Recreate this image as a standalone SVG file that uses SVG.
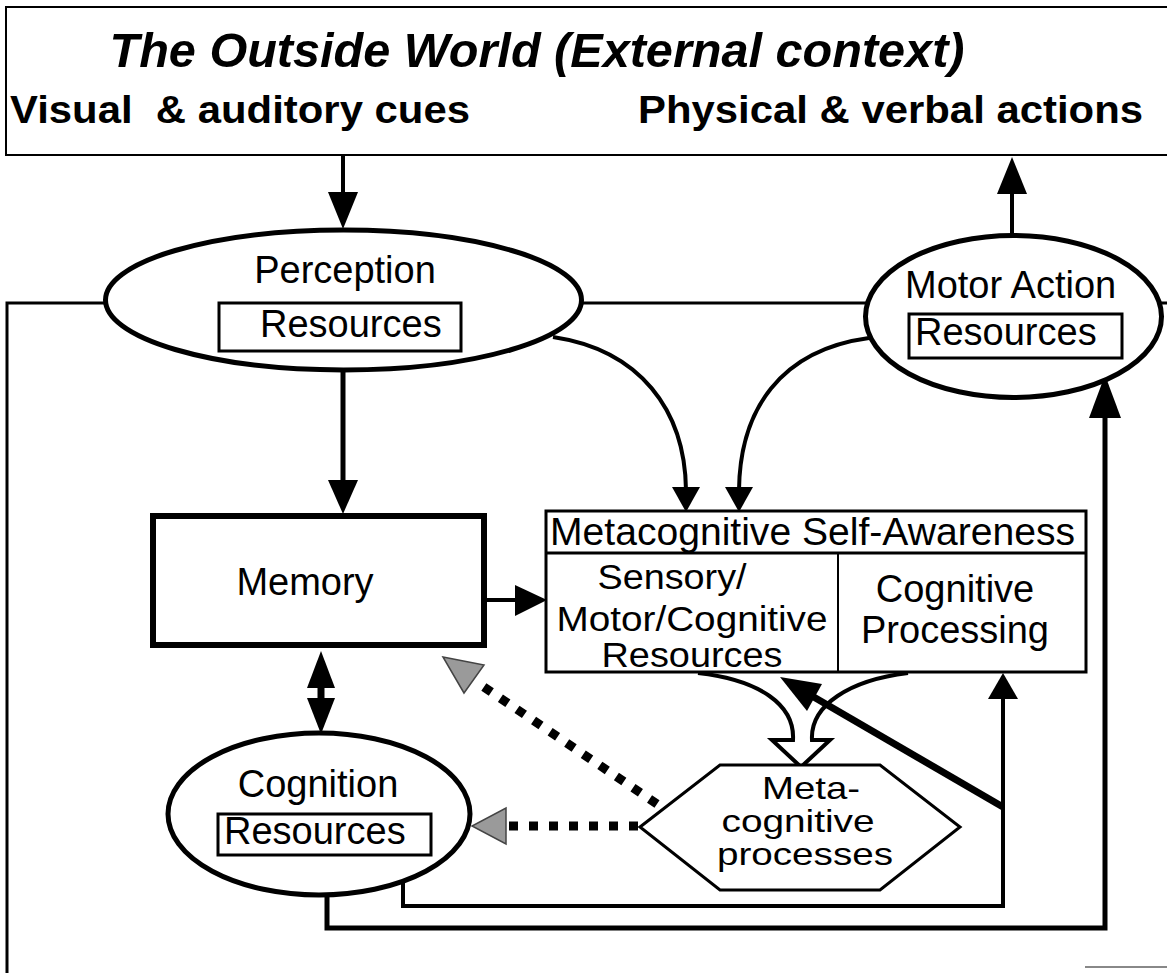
<svg xmlns="http://www.w3.org/2000/svg" width="1167" height="973" viewBox="0 0 1167 973">
<style>
text{font-family:"Liberation Sans",Arial,sans-serif;fill:#000}
.n{font-size:38px}
.s{font-size:35px}
.h{font-size:32px}
.c{text-anchor:middle}
.hb{font-size:39px;font-weight:bold}
.ln{fill:none;stroke:#000;stroke-linecap:butt;stroke-linejoin:miter}
.ah{fill:#000;stroke:none}
.gh{fill:#9a9a9a;stroke:#444;stroke-width:1.5}
.dot{fill:none;stroke:#000;stroke-width:9;stroke-dasharray:9 11}
</style>
<rect width="1167" height="973" fill="#fff"/>

<g id="outside-world">
<rect x="6" y="7" width="1175" height="148" fill="#fff" stroke="#000" stroke-width="2"/>
<text x="537" y="67" class="c" style="font-size:48px;font-weight:bold;font-style:italic" textLength="855" lengthAdjust="spacingAndGlyphs">The Outside World (External context)</text>
<text x="10" y="123" class="hb" xml:space="preserve" textLength="460" lengthAdjust="spacingAndGlyphs">Visual  &amp; auditory cues</text>
<text x="638" y="123" class="hb" textLength="505" lengthAdjust="spacingAndGlyphs">Physical &amp; verbal actions</text>
</g>

<g id="frame">
<path class="ln" stroke-width="3" d="M105 303 H7 V973 M582 303 H866 M1161 303 H1167"/>
<path d="M1085 967 H1167" stroke="#888" stroke-width="2" fill="none"/>
</g>

<g id="connectors">
<path class="ln" stroke-width="4" d="M343 155 V195"/>
<polygon class="ah" points="328,192 358,192 343,229"/>
<path class="ln" stroke-width="4" d="M1012 236 V190"/>
<polygon class="ah" points="997,194 1027,194 1012,157"/>
<path class="ln" stroke-width="5" d="M343 370 V484"/>
<polygon class="ah" points="328,480 358,480 343,514"/>
<path class="ln" stroke-width="4" d="M487 600 H518"/>
<polygon class="ah" points="515,585 515,616 547,600"/>
<path class="ln" stroke-width="4" d="M553 337 C640 350 685 410 686 490"/>
<polygon class="ah" points="672,487 700,487 686,512"/>
<path class="ln" stroke-width="4" d="M869 338 C780 350 740 410 739 490"/>
<polygon class="ah" points="725,487 753,487 739,512"/>
<path class="ln" stroke-width="7" d="M321 685 V701"/>
<polygon class="ah" points="307,688 335,688 321,651"/>
<polygon class="ah" points="307,698 335,698 321,734"/>
<path class="ln" stroke-width="5" d="M327 893 V928 H1105 V414"/>
<polygon class="ah" points="1089,418 1121,418 1105,375"/>
<path class="ln" stroke-width="4" d="M403 880 V906 H1003 V696"/>
<polygon class="ah" points="988,699 1018,699 1003,673"/>
<path d="M698 673 C760 680 795 705 793 740 L772 740 L801 767 L830 740 L812 740 C810 705 850 680 908 673" fill="#fff" stroke="#000" stroke-width="4" stroke-linejoin="miter"/>
<path class="ln" stroke-width="7" d="M1003 807 L812 696"/>
<polygon class="ah" points="780,677 822,684 807,711"/>
<path class="dot" d="M638 826 H508"/>
<polygon class="gh" points="506,808 506,844 472,826"/>
<path class="dot" d="M657 804 L478 683"/>
<polygon class="gh" points="443,657 484,665 464,693"/>
</g>

<g id="perception">
<ellipse cx="343.5" cy="300" rx="238" ry="70" fill="#fff" stroke="#000" stroke-width="5"/>
<text x="345" y="283" class="n c">Perception</text>
<rect x="219" y="303" width="242" height="48" fill="#fff" stroke="#000" stroke-width="3"/>
<text x="260" y="337" class="n">Resources</text>
</g>

<g id="motor-action">
<ellipse cx="1013.5" cy="316.5" rx="148" ry="81" fill="#fff" stroke="#000" stroke-width="5"/>
<text x="905" y="298" class="n">Motor Action</text>
<rect x="909" y="314" width="213" height="44" fill="#fff" stroke="#000" stroke-width="3"/>
<text x="915" y="345" class="n">Resources</text>
</g>

<g id="memory">
<rect x="153" y="516" width="331" height="129" fill="#fff" stroke="#000" stroke-width="6"/>
<text x="305" y="595" class="n c">Memory</text>
</g>

<g id="metacognitive-self-awareness">
<rect x="546" y="511" width="540" height="161" fill="#fff" stroke="#000" stroke-width="3"/>
<path class="ln" stroke-width="3" d="M546 553 H1086"/>
<path class="ln" stroke-width="2" d="M838 553 V672"/>
<text x="550" y="545" class="n" textLength="525" lengthAdjust="spacingAndGlyphs">Metacognitive Self-Awareness</text>
<text x="672" y="589" class="s c" textLength="149" lengthAdjust="spacingAndGlyphs">Sensory/</text>
<text x="692" y="631" class="s c" textLength="271" lengthAdjust="spacingAndGlyphs">Motor/Cognitive</text>
<text x="692" y="667" class="s c" textLength="181" lengthAdjust="spacingAndGlyphs">Resources</text>
<text x="955" y="602" class="n c">Cognitive</text>
<text x="955" y="643" class="n c">Processing</text>
</g>

<g id="cognition">
<ellipse cx="319" cy="814" rx="151" ry="81" fill="#fff" stroke="#000" stroke-width="5"/>
<text x="318" y="797" class="n c">Cognition</text>
<rect x="218" y="814" width="213" height="41" fill="#fff" stroke="#000" stroke-width="3"/>
<text x="224" y="844" class="n">Resources</text>
</g>

<g id="meta-cognitive-processes">
<polygon points="640,827 720,765 880,765 960,827 880,890 720,890" fill="#fff" stroke="#000" stroke-width="3"/>
<text x="811" y="799" class="h c" textLength="98" lengthAdjust="spacingAndGlyphs">Meta-</text>
<text x="798" y="832" class="h c" textLength="153" lengthAdjust="spacingAndGlyphs">cognitive</text>
<text x="805" y="865" class="h c" textLength="176" lengthAdjust="spacingAndGlyphs">processes</text>
</g>
</svg>
